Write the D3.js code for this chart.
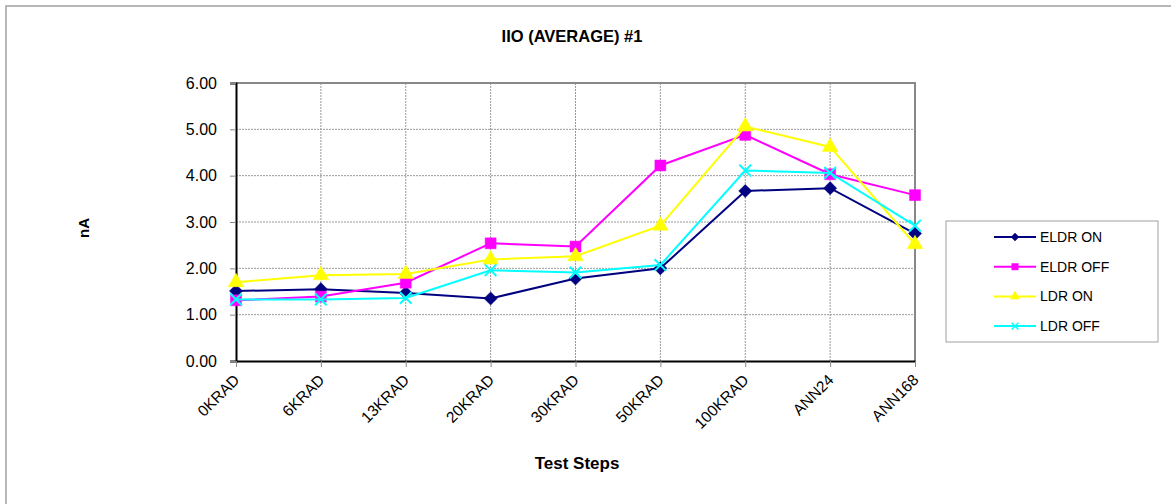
<!DOCTYPE html>
<html>
<head>
<meta charset="utf-8">
<script src="https://cdn.jsdelivr.net/npm/d3@7"></script>
<style>
  body { margin: 0; background: #fff; }
  svg { font-family: "Liberation Sans", Arial, sans-serif; }
</style>
</head>
<body>
<svg id="chart" width="1171" height="504"></svg>
<script>
var steps = ["0KRAD", "6KRAD", "13KRAD", "20KRAD", "30KRAD", "50KRAD", "100KRAD", "ANN24", "ANN168"];
var eldrOn  = [1.51, 1.55, 1.47, 1.35, 1.78, 2.00, 3.67, 3.73, 2.75];
var eldrOff = [1.31, 1.39, 1.69, 2.54, 2.47, 4.22, 4.88, 4.03, 3.58];
var ldrOn   = [1.70, 1.85, 1.88, 2.19, 2.26, 2.92, 5.06, 4.62, 2.52];
var ldrOff  = [1.33, 1.33, 1.36, 1.96, 1.91, 2.07, 4.11, 4.06, 2.92];
var yTicks  = [0, 1, 2, 3, 4, 5, 6];

var series = [
  { name: "ELDR ON",  values: eldrOn,  color: "#000080", symbol: d3.symbolDiamond2, size: 110 },
  { name: "ELDR OFF", values: eldrOff, color: "#ff00ff", symbol: d3.symbolSquare,   size: 120 },
  { name: "LDR ON",   values: ldrOn,   color: "#ffff00", symbol: d3.symbolTriangle, size: 105 },
  { name: "LDR OFF",  values: ldrOff,  color: "#00ffff", symbol: d3.symbolX,        size: 90 }
];

var svg = d3.select("#chart");
var pLeft = 236, pRight = 915, pTop = 83, pBottom = 361;

// outer frame
svg.append("rect").attr("x", 6).attr("y", 6).attr("width", 1200).attr("height", 600)
  .attr("fill", "none").attr("stroke", "#a0a0a0").attr("stroke-width", 1.5);

var x = d3.scalePoint().domain(steps).range([pLeft, pRight]);
var y = d3.scaleLinear().domain([0, 6]).range([pBottom, pTop]);

// grid
svg.append("g").selectAll("line").data(yTicks.slice(1)).join("line")
  .attr("x1", pLeft).attr("x2", pRight).attr("y1", d => y(d)).attr("y2", d => y(d))
  .attr("stroke", "#999").attr("stroke-dasharray", "2,1");
svg.append("g").selectAll("line").data(steps.slice(1, -1)).join("line")
  .attr("x1", d => x(d)).attr("x2", d => x(d)).attr("y1", pTop).attr("y2", pBottom)
  .attr("stroke", "#999").attr("stroke-dasharray", "2,1");

// plot border (top / right gray)
svg.append("path").attr("d", `M${pLeft},${pTop}H${pRight}V${pBottom}`)
  .attr("fill", "none").attr("stroke", "#888").attr("stroke-width", 2);

// y axis
var yAxis = svg.append("g").attr("transform", `translate(${pLeft},0)`)
  .call(d3.axisLeft(y).tickValues(yTicks).tickFormat(d3.format(".2f")).tickSize(6).tickPadding(13));
yAxis.select(".domain").attr("stroke", "#000").attr("stroke-width", 2);
yAxis.selectAll(".tick line").attr("stroke", "#888");
yAxis.selectAll("text").attr("font-size", 16).attr("fill", "#000");

// x axis
var xAxis = svg.append("g").attr("transform", `translate(0,${pBottom})`)
  .call(d3.axisBottom(x).tickSize(6).tickSizeOuter(0));
xAxis.select(".domain").attr("stroke", "#000").attr("stroke-width", 2);
xAxis.selectAll(".tick line").attr("stroke", "#888");
xAxis.selectAll("text").attr("font-size", 15.5).attr("fill", "#000")
  .attr("text-anchor", "end").attr("dy", 0).attr("y", 0)
  .attr("transform", "translate(4,20) rotate(-45)");

// series
var line = d3.line().x((d, i) => x(steps[i])).y(d => y(d));
series.forEach(function(s) {
  svg.append("path").datum(s.values).attr("d", line)
    .attr("fill", "none").attr("stroke", s.color).attr("stroke-width", 2);
  svg.append("g").selectAll("path").data(s.values).join("path")
    .attr("transform", (d, i) => `translate(${x(steps[i])},${y(d)})`)
    .attr("d", d3.symbol(s.symbol, s.size))
    .attr("fill", s.symbol === d3.symbolX ? "none" : s.color)
    .attr("stroke", s.color).attr("stroke-width", s.symbol === d3.symbolX ? 2 : 0.5);
});

// titles
svg.append("text").attr("x", 572).attr("y", 42).attr("text-anchor", "middle")
  .attr("font-size", 16.5).attr("font-weight", "bold").text("IIO (AVERAGE) #1");
svg.append("text").attr("x", 577).attr("y", 469).attr("text-anchor", "middle")
  .attr("font-size", 17).attr("font-weight", "bold").text("Test Steps");
svg.append("text").attr("transform", "translate(89,228) rotate(-90)").attr("text-anchor", "middle")
  .attr("font-size", 15).attr("font-weight", "bold").text("nA");

// legend
var lg = svg.append("g");
lg.append("rect").attr("x", 946).attr("y", 221).attr("width", 212).attr("height", 121)
  .attr("fill", "#fff").attr("stroke", "#a0a0a0").attr("stroke-width", 1);
series.forEach(function(s, i) {
  var ly = 237 + i * 29.7;
  lg.append("line").attr("x1", 994).attr("x2", 1036).attr("y1", ly).attr("y2", ly)
    .attr("stroke", s.color).attr("stroke-width", 2);
  lg.append("path").attr("transform", `translate(1015,${ly})`)
    .attr("d", d3.symbol(s.symbol, s.size * 0.35))
    .attr("fill", s.symbol === d3.symbolX ? "none" : s.color)
    .attr("stroke", s.color).attr("stroke-width", s.symbol === d3.symbolX ? 1.5 : 0.5);
  lg.append("text").attr("x", 1040).attr("y", ly + 5).attr("font-size", 14).text(s.name);
});
</script>
</body>
</html>
